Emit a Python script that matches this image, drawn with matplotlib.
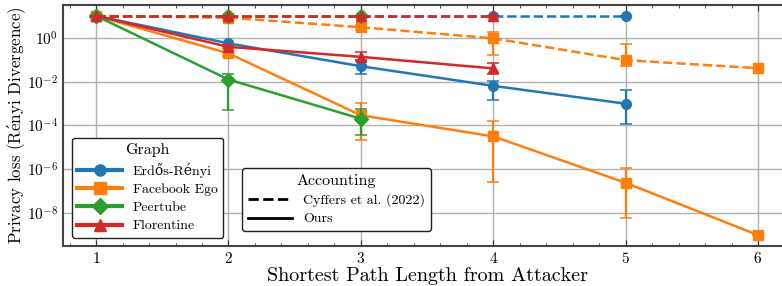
import numpy as np
import matplotlib
matplotlib.use("Agg")
import matplotlib.pyplot as plt
from matplotlib.lines import Line2D

plt.rcParams["font.family"] = ["cmr10", "DejaVu Serif"]
plt.rcParams["mathtext.fontset"] = "cm"
plt.rcParams["axes.formatter.use_mathtext"] = True
plt.rcParams["axes.unicode_minus"] = False

# ---------------------------------------------------------------------------
# Data (log10 of privacy loss)
# ---------------------------------------------------------------------------
graphs = ["Erdős-Rényi", "Facebook Ego", "Peertube", "Florentine"]
colors = ["#1f77b4", "#ff7f0e", "#2ca02c", "#d62728"]
markers = ["o", "s", "D", "^"]

# Ours (solid)
er_x = [1, 2, 3, 4, 5]
er_ours = [1.03, -0.23, -1.28, -2.18, -3.00]
er_ours_lo = [1.03, -0.30, -1.64, -2.85, -3.95]
er_ours_hi = [1.03, -0.15, -1.05, -1.95, -2.35]

fb_x = [1, 2, 3, 4, 5, 6]
fb_ours = [1.03, -0.69, -3.53, -4.50, -6.63, -9.03]
fb_ours_lo = [1.03, -0.80, -4.65, -6.60, -8.23, -9.03]
fb_ours_hi = [1.03, -0.60, -2.95, -3.80, -5.93, -9.03]

pt_x = [1, 2, 3]
pt_ours = [1.03, -1.89, -3.69]
pt_ours_lo = [1.03, -3.30, -4.42]
pt_ours_hi = [1.03, -1.64, -3.23]

fl_x = [1, 2, 3, 4]
fl_ours = [1.03, -0.39, -0.85, -1.38]
fl_ours_lo = [1.03, -0.45, -1.00, -1.64]
fl_ours_hi = [1.03, -0.33, -0.62, -1.15]

# Cyffers et al. (2022) (dashed)
er_cyf = [1.03, 1.03, 1.03, 1.03, 1.03]
fb_cyf = [1.03, 0.95, 0.51, 0.00, -1.00, -1.37]
fb_cyf_lo = [1.03, 0.90, 0.40, -0.77, -1.28, -1.37]
fb_cyf_hi = [1.03, 1.00, 0.60, 0.30, -0.28, -1.37]
pt_cyf = [1.03, 1.03, 1.03]
fl_cyf = [1.03, 1.03, 1.03, 1.03]

ours = [
    (er_x, er_ours, er_ours_lo, er_ours_hi),
    (fb_x, fb_ours, fb_ours_lo, fb_ours_hi),
    (pt_x, pt_ours, pt_ours_lo, pt_ours_hi),
    (fl_x, fl_ours, fl_ours_lo, fl_ours_hi),
]
cyffers = [
    (er_x, er_cyf, er_cyf, er_cyf),
    (fb_x, fb_cyf, fb_cyf_lo, fb_cyf_hi),
    (pt_x, pt_cyf, pt_cyf, pt_cyf),
    (fl_x, fl_cyf, fl_cyf, fl_cyf),
]


def draw(ax, series, ls, zbase):
    for i, (x, y, lo, hi) in enumerate(series):
        y = 10 ** np.array(y)
        lo = 10 ** np.array(lo)
        hi = 10 ** np.array(hi)
        ax.errorbar(x, y, yerr=[y - lo, hi - y], color=colors[i], marker=markers[i],
                    ms=7, lw=1.8, ls=ls, capsize=4, elinewidth=1.6, capthick=1.1,
                    zorder=zbase + i)


fig = plt.figure(figsize=(7.82, 2.86), dpi=100)
ax = fig.add_axes([0.0806, 0.1399, 0.931, 0.8426])

draw(ax, cyffers, "--", 3)
draw(ax, ours, "-", 8)

ax.set_yscale("log")
ax.set_xlim(0.75, 6.25)
ax.set_ylim(10 ** -9.53, 10 ** 1.53)
ax.set_yticks([1e-8, 1e-6, 1e-4, 1e-2, 1e0])
ax.yaxis.set_minor_locator(matplotlib.ticker.NullLocator())
ax.set_xticks([1, 2, 3, 4, 5, 6])
ax.xaxis.set_minor_locator(matplotlib.ticker.MultipleLocator(0.2))
ax.tick_params(axis="both", which="both", direction="in", top=True, right=True,
               labelsize=11, color="#333333")
ax.tick_params(axis="x", which="major", length=4)
ax.tick_params(axis="x", which="minor", length=2)
ax.tick_params(axis="y", which="major", length=0)
ax.grid(True, color="#b0b0b0", lw=1)
ax.set_axisbelow(True)
for s in ax.spines.values():
    s.set_color("#444444")
    s.set_linewidth(1.5)

ax.set_xlabel("Shortest Path Length from Attacker", fontsize=14.5, labelpad=1)
ax.set_ylabel("Privacy loss (R$\\acute{\\mathrm{e}}$nyi Divergence)", fontsize=12.2, labelpad=-1)

# Legends
g_handles = [Line2D([], [], color=c, marker=m, ms=8, lw=3) for c, m in zip(colors, markers)]
leg1 = ax.legend(g_handles, graphs, title="Graph", loc="lower left",
                 bbox_to_anchor=(0.012, 0.033), borderaxespad=0, fontsize=10,
                 title_fontsize=11.5, framealpha=1, edgecolor="#222222",
                 handlelength=3.2, borderpad=0.4, labelspacing=0.4)
leg1.get_frame().set_linewidth(1.0)
ax.add_artist(leg1)

a_handles = [Line2D([], [], color="black", ls="--", lw=2),
             Line2D([], [], color="black", ls="-", lw=2)]
leg2 = ax.legend(a_handles, ["Cyffers et al. (2022)", "Ours"], title="Accounting",
                 loc="lower left", bbox_to_anchor=(0.246, 0.062), borderaxespad=0,
                 fontsize=10, title_fontsize=11.5, framealpha=1, edgecolor="#222222",
                 handlelength=3.2, borderpad=0.4, labelspacing=0.4)
leg2.get_frame().set_linewidth(1.0)

fig.savefig("out.png", dpi=100)
